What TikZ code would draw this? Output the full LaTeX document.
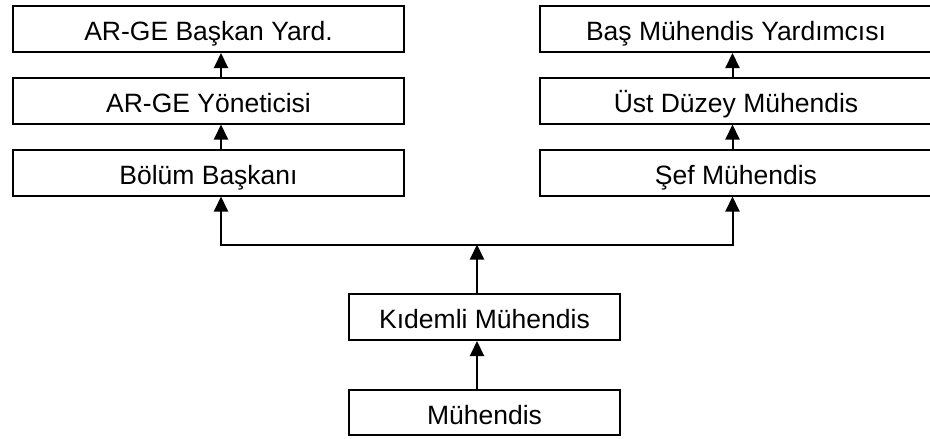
\documentclass[tikz,border=0pt]{standalone}
\usepackage{fontspec}
\setmainfont{Liberation Sans}
\usetikzlibrary{arrows.meta}

\tikzset{
  rolebox/.style={draw=black, line width=2pt, fill=white, rectangle,
    inner sep=0pt, text depth=0pt, text height=23.5pt,
    font=\fontsize{26.5}{31}\selectfont, minimum height=46pt},
  widebox/.style={rolebox, minimum width=391pt},
  narrowbox/.style={rolebox, minimum width=271pt},
  link/.style={line width=2pt, -{Triangle[width=14pt,length=15pt]}},
  linkboth/.style={line width=2pt, {Triangle[width=14pt,length=15pt]}-{Triangle[width=14pt,length=15pt]}}
}

\begin{document}
\begin{tikzpicture}[x=1pt, y=-1pt]
  \useasboundingbox (0,0) rectangle (930,439);

  % management track
  \node[widebox] (l1) at (208.5,29) {AR-GE Başkan Yard.};
  \node[widebox] (l2) at (208.5,100.5) {AR-GE Yöneticisi};
  \node[widebox] (l3) at (208.5,172.5) {Bölüm Başkanı};

  % technical track
  \node[widebox, minimum width=392pt] (r1) at (736,29) {Baş Mühendis Yardımcısı};
  \node[widebox, minimum width=392pt] (r2) at (736,100.5) {Üst Düzey Mühendis};
  \node[widebox, minimum width=392pt] (r3) at (736,172.5) {Şef Mühendis};

  % common entry levels
  \node[narrowbox] (k) at (484.5,317) {Kıdemli Mühendis};
  \node[narrowbox, minimum height=45pt] (m) at (484.5,412.5) {Mühendis};

  % connector columns and the split line
  \coordinate (lx) at (221,0);
  \coordinate (rx) at (732.5,0);
  \coordinate (cx) at (477,0);
  \coordinate (bus) at (0,244.5);

  \draw[link] (l2.north -| lx) -- (l1.south -| lx);
  \draw[link] (l3.north -| lx) -- (l2.south -| lx);
  \draw[link] (r2.north -| rx) -- (r1.south -| rx);
  \draw[link] (r3.north -| rx) -- (r2.south -| rx);

  \draw[linkboth] (l3.south -| lx) -- (lx |- bus) -- (rx |- bus) -- (r3.south -| rx);
  \draw[link] (k.north -| cx) -- (cx |- bus);
  \draw[link] (m.north -| cx) -- (k.south -| cx);
\end{tikzpicture}
\end{document}
